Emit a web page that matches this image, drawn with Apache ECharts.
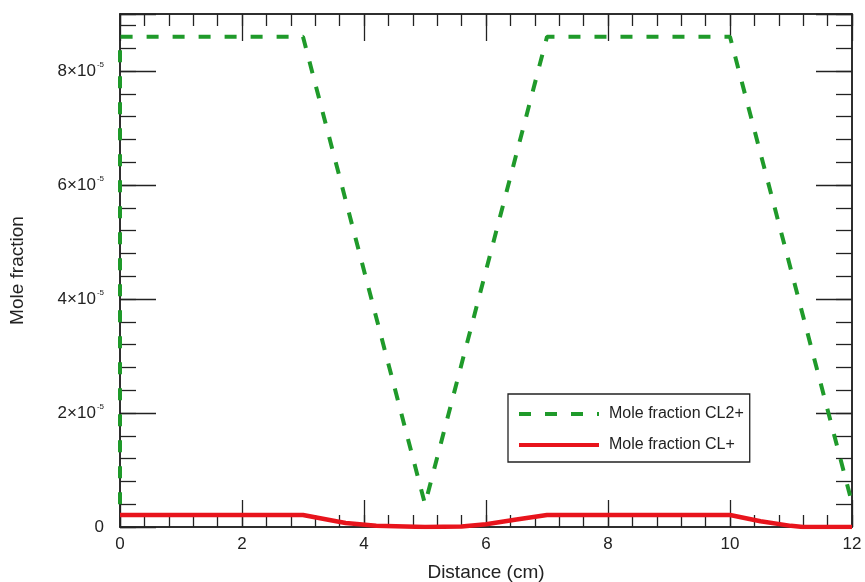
<!DOCTYPE html>
<html>
<head>
<meta charset="utf-8">
<script src="https://cdn.jsdelivr.net/npm/echarts@6/dist/echarts.min.js"></script>
<style>html,body{margin:0;padding:0;background:#fff}#c{width:865px;height:582px}</style>
</head>
<body>
<div id="c"></div>
<script>
// Distance (cm)
const cl2X = [0, 0, 3, 5, 7, 10, 12];
// Mole fraction CL2+ (units of 1e-5)
const cl2Y = [0.4, 8.6, 8.6, 0.4, 8.6, 8.6, 0.42];
// Distance (cm)
const clX = [0, 3, 3.5, 3.7, 4.2, 5, 5.6, 6, 6.5, 7, 10, 10.5, 11, 11.2, 12];
// Mole fraction CL+ (units of 1e-5)
const clY = [0.21, 0.21, 0.11, 0.07, 0.02, 0.0, 0.01, 0.05, 0.13, 0.21, 0.21, 0.1, 0.02, 0.0, 0.0];
const xTickLabels = ['0', '2', '4', '6', '8', '10', '12'];
const yTickLabels = ['0', '2', '4', '6', '8'];
const seriesNames = ['Mole fraction CL2+', 'Mole fraction CL+'];

const chart = echarts.init(document.getElementById('c'));
const FONT = 'Liberation Sans, Arial, sans-serif';
const LINE = {color: '#222', width: 1.5};

function xAx(pos, interval, len, labels) {
  return {
    type: 'value', position: pos, min: 0, max: 12, interval: interval,
    axisLine: {show: true, onZero: false, lineStyle: LINE},
    axisTick: {show: true, inside: true, length: len, lineStyle: {color: '#222', width: 1.3}},
    splitLine: {show: false},
    axisLabel: labels ? {
      show: true, margin: 9, fontSize: 17, color: '#222', fontFamily: FONT,
      formatter: v => { const i = xTickLabels.indexOf(String(v)); return i >= 0 ? xTickLabels[i] : ''; }
    } : {show: false},
    name: labels ? 'Distance (cm)' : '',
    nameLocation: 'middle', nameGap: 36,
    nameTextStyle: {fontSize: 19, color: '#222', fontFamily: FONT}
  };
}
function yAx(pos, interval, len, labels) {
  return {
    type: 'value', position: pos, min: 0, max: 9, interval: interval,
    axisLine: {show: true, onZero: false, lineStyle: LINE},
    axisTick: {show: true, inside: true, length: len, lineStyle: {color: '#222', width: 1.3}},
    splitLine: {show: false},
    axisLabel: labels ? {
      show: true, margin: 16, fontSize: 17, color: '#222', fontFamily: FONT,
      formatter: v => {
        const s = String(v);
        if (yTickLabels.indexOf(s) < 0) return '';
        return s === '0' ? '{a|0}' : '{a|' + s + '×10}{s|-5}';
      },
      rich: {
        a: {fontSize: 17, color: '#222', fontFamily: FONT},
        s: {fontSize: 8, color: '#222', fontFamily: FONT, padding: [0, 0, 12, 1]}
      }
    } : {show: false},
    name: labels ? 'Mole fraction' : '',
    nameLocation: 'middle', nameGap: 93,
    nameTextStyle: {fontSize: 19, color: '#222', fontFamily: FONT}
  };
}

chart.setOption({
  backgroundColor: '#fff',
  animation: false,
  grid: {left: 120, right: 13, top: 14, bottom: 55, containLabel: false, outerBoundsMode: 'none'},
  xAxis: [xAx('bottom', 2, 27, true), xAx('bottom', 0.4, 12, false), xAx('top', 2, 27, false), xAx('top', 0.4, 12, false)],
  yAxis: [yAx('left', 2, 36, true), yAx('left', 0.4, 16, false), yAx('right', 2, 36, false), yAx('right', 0.4, 16, false)],
  legend: {
    show: true,
    left: 508, top: 394, orient: 'vertical',
    itemWidth: 80, itemHeight: 14, itemGap: 15,
    padding: [12, 6, 9, 9],
    borderColor: '#222', borderWidth: 1.3, backgroundColor: '#fff',
    itemStyle: {opacity: 0},
    lineStyle: {width: 4},
    textStyle: {fontSize: 16, color: '#222', fontFamily: FONT, padding: [0, 0, 0, 5]},
    data: seriesNames
  },
  series: [
    {
      name: seriesNames[0], type: 'line', xAxisIndex: 0, yAxisIndex: 0,
      data: cl2X.map((x, i) => [x, cl2Y[i]]),
      symbol: 'none',
      lineStyle: {color: '#1f9a2a', width: 4, type: [12, 14]},
      itemStyle: {color: '#1f9a2a'}
    },
    {
      name: seriesNames[1], type: 'line', xAxisIndex: 0, yAxisIndex: 0,
      data: clX.map((x, i) => [x, clY[i]]),
      symbol: 'none',
      lineStyle: {color: '#e8141c', width: 4.5},
      itemStyle: {color: '#e8141c'}
    }
  ]
});
</script>
</body>
</html>
